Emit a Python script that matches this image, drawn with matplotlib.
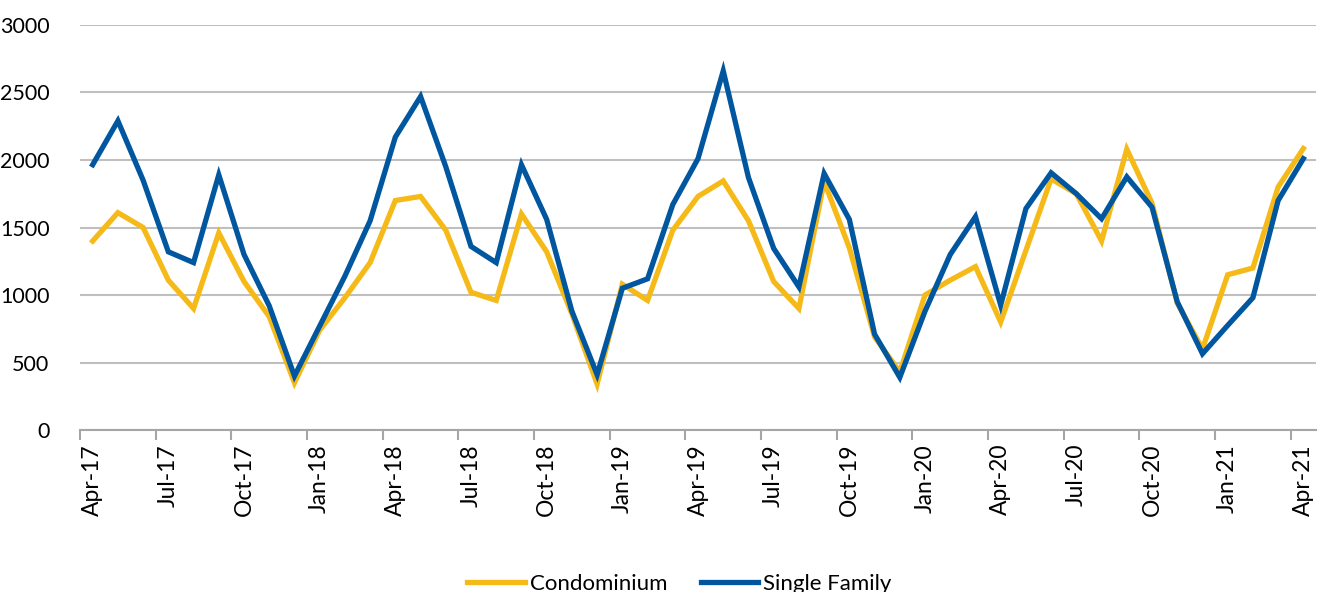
import numpy as np
import matplotlib.pyplot as plt

# monthly sales, Apr-17 .. Apr-21
months = ['Apr-17', 'May-17', 'Jun-17', 'Jul-17', 'Aug-17', 'Sep-17', 'Oct-17', 'Nov-17', 'Dec-17',
          'Jan-18', 'Feb-18', 'Mar-18', 'Apr-18', 'May-18', 'Jun-18', 'Jul-18', 'Aug-18', 'Sep-18',
          'Oct-18', 'Nov-18', 'Dec-18', 'Jan-19', 'Feb-19', 'Mar-19', 'Apr-19', 'May-19', 'Jun-19',
          'Jul-19', 'Aug-19', 'Sep-19', 'Oct-19', 'Nov-19', 'Dec-19', 'Jan-20', 'Feb-20', 'Mar-20',
          'Apr-20', 'May-20', 'Jun-20', 'Jul-20', 'Aug-20', 'Sep-20', 'Oct-20', 'Nov-20', 'Dec-20',
          'Jan-21', 'Feb-21', 'Mar-21', 'Apr-21']

condo = [1400, 1610, 1500, 1110, 900, 1460, 1100, 840, 350,
         740, 980, 1240, 1700, 1730, 1480, 1020, 960, 1600,
         1320, 860, 340, 1080, 960, 1480, 1730, 1845, 1550,
         1100, 900, 1840, 1350, 690, 430, 1000, 1110, 1210,
         800, 1330, 1860, 1750, 1400, 2080, 1680, 940, 600,
         1150, 1200, 1800, 2085]

single = [1965, 2290, 1850, 1320, 1240, 1890, 1300, 920, 400,
          770, 1140, 1550, 2170, 2470, 1950, 1360, 1240, 1965,
          1560, 880, 410, 1050, 1120, 1670, 2010, 2660, 1870,
          1345, 1060, 1900, 1560, 710, 390, 880, 1300, 1580,
          925, 1640, 1905, 1750, 1565, 1875, 1650, 950, 565,
          775, 980, 1700, 2010]

plt.rcParams['font.family'] = ['Lato', 'DejaVu Sans']

fig = plt.figure(figsize=(13.19, 5.92), dpi=100)
ax = fig.add_axes([0.0607, 0.2736, 0.937, 0.6842])

x = np.arange(len(months))
ax.plot(x, condo, color='#F5B918', lw=3.8, label='Condominium', solid_joinstyle='miter')
ax.plot(x, single, color='#0057A0', lw=3.8, label='Single Family', solid_joinstyle='miter')

ax.set_xlim(-0.5, len(months) - 0.5)
ax.set_ylim(0, 3000)
ax.set_yticks(range(0, 3001, 500))
ax.yaxis.grid(True, color='#BFBFBF', lw=1.5)
ax.set_axisbelow(True)
ax.tick_params(axis='y', length=0, labelsize=15.5, pad=22)

# tick marks between categories, labels on every third month
ax.set_xticks(np.arange(-0.5, len(months), 3))
ax.set_xticklabels([])
ax.set_xticks(x[::3], minor=True)
ax.set_xticklabels(months[::3], minor=True, rotation=90, fontsize=16.5)
ax.tick_params(axis='x', which='major', length=7, width=1.5, color='#A6A6A6')
ax.tick_params(axis='x', which='minor', length=0, pad=10)

for s in ['top', 'right', 'left']:
    ax.spines[s].set_visible(False)
ax.spines['bottom'].set_color('#A6A6A6')
ax.spines['bottom'].set_linewidth(1.5)

fig.legend(loc='center', bbox_to_anchor=(0.515, 0.014), ncol=2, frameon=False,
           fontsize=16, handlelength=2.6, handletextpad=0.2, columnspacing=1.5)

fig.savefig('out.png', dpi=100)
